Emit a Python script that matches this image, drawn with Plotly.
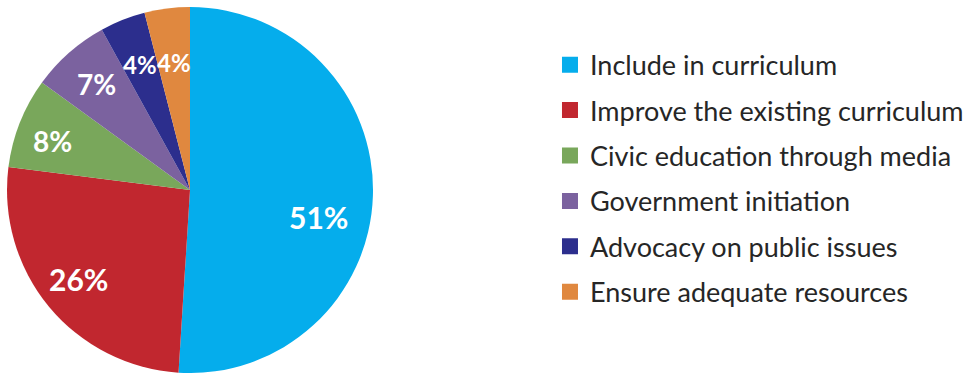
import math
import plotly.graph_objects as go

# Survey responses: how civic education should be strengthened
labels = [
    "Include in curriculum",
    "Improve the existing curriculum",
    "Civic education through media",
    "Government initiation",
    "Advocacy on public issues",
    "Ensure adequate resources",
]
shares = [51, 26, 8, 7, 4, 4]
colors = ["#05ADEC", "#C1272F", "#79A75B", "#7B629F", "#2C2E8D", "#E0883F"]

# Percentage label styling: distance from centre (fraction of radius),
# angular nudge in degrees and font size for each slice label
label_radius = [0.72, 0.78, 0.80, 0.77, 0.74, 0.70]
label_nudge = [10, 1, -2, 0, 0, 0]
label_size = [30, 30, 28, 28, 24, 24]

W, H = 970, 373
FONT = "Lato, 'Open Sans', sans-serif"

# Pie placement (paper fractions)
dom_x = [7 / W, 373 / W]
dom_y = [0, 366 / H]

fig = go.Figure()

fig.add_trace(go.Pie(
    labels=labels,
    values=shares,
    sort=False,
    direction="clockwise",
    rotation=0,
    marker=dict(colors=colors, line=dict(width=0)),
    textinfo="none",
    domain=dict(x=dom_x, y=dom_y),
    showlegend=False,
    hoverinfo="label+percent",
))

# Percentage labels placed along each slice's bisector
cx = (dom_x[0] + dom_x[1]) / 2
cy = (dom_y[0] + dom_y[1]) / 2
r_px = min((dom_x[1] - dom_x[0]) * W, (dom_y[1] - dom_y[0]) * H) / 2
total = sum(shares)
cum = 0
for v, f, nd, sz in zip(shares, label_radius, label_nudge, label_size):
    theta = math.radians(360 * (cum + v / 2) / total + nd)
    cum += v
    fig.add_annotation(
        x=cx + r_px * f * math.sin(theta) / W,
        y=cy + r_px * f * math.cos(theta) / H,
        xref="paper", yref="paper", showarrow=False,
        xanchor="center", yanchor="middle",
        text=f"{v}%",
        font=dict(family=FONT, size=sz, color="white", weight="bold"),
    )

# Legend entries: one square swatch per category
for lab, col in zip(labels, colors):
    fig.add_trace(go.Scatter(
        x=[None], y=[None], mode="markers",
        marker=dict(symbol="square", size=16, color=col),
        name=lab, legendgroup=lab, showlegend=True, hoverinfo="skip",
    ))

fig.update_layout(
    width=W, height=H,
    margin=dict(l=0, r=0, t=0, b=0),
    paper_bgcolor="white",
    plot_bgcolor="white",
    xaxis=dict(visible=False),
    yaxis=dict(visible=False),
    legend=dict(
        x=0.567, y=0.891, xanchor="left", yanchor="top",
        font=dict(family=FONT, size=27, color="#262626"),
        tracegroupgap=7.3,
        itemwidth=30,
        bgcolor="rgba(0,0,0,0)",
    ),
)

fig.write_html("out.html")
